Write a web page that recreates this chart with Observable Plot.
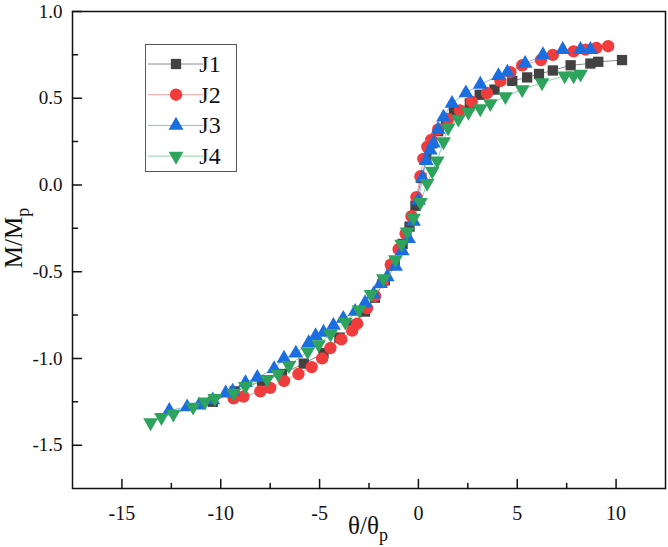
<!DOCTYPE html>
<html><head><meta charset="utf-8">
<script src="https://cdn.jsdelivr.net/npm/d3@7"></script>
<script src="https://cdn.jsdelivr.net/npm/@observablehq/plot@0.6"></script>
<style>body{margin:0;background:#fff}#chart{width:668px;height:547px}</style>
</head><body><div id="chart"></div>
<script>
const seriesNames = ["J1", "J2", "J3", "J4"];
const j1X = [-10.4,-9.3,-7.9,-6.9,-5.8,-4.8,-4.0,-3.3,-2.7,-2.2,-1.7,-1.2,-0.8,-0.45,-0.15,0.15,0.4,0.7,1.0,1.4,1.8,2.6,3.1,3.85,4.75,5.5,6.1,6.8,7.7,8.7,9.1,10.3];
const j1Y = [-1.25,-1.19,-1.13,-1.09,-1.03,-0.97,-0.88,-0.81,-0.73,-0.65,-0.55,-0.44,-0.34,-0.24,-0.12,0.04,0.15,0.24,0.31,0.37,0.42,0.47,0.52,0.55,0.60,0.62,0.64,0.66,0.69,0.70,0.71,0.72];
const j2X = [-9.35,-8.85,-8.0,-7.5,-6.8,-6.07,-5.4,-4.87,-4.45,-3.9,-3.35,-3.1,-2.6,-2.2,-1.8,-1.4,-1.0,-0.65,-0.35,-0.1,0.1,0.25,0.45,0.65,1.0,1.5,2.1,2.7,3.47,4.15,4.65,5.25,6.2,6.8,7.85,8.45,9.0,9.6];
const j2Y = [-1.23,-1.22,-1.19,-1.17,-1.13,-1.09,-1.05,-1.00,-0.94,-0.89,-0.84,-0.80,-0.71,-0.64,-0.56,-0.46,-0.37,-0.28,-0.18,-0.07,0.05,0.15,0.22,0.26,0.32,0.38,0.43,0.48,0.53,0.60,0.65,0.69,0.72,0.75,0.77,0.78,0.79,0.80];
const j3X = [-12.6,-11.7,-11.1,-10.4,-9.75,-9.4,-8.75,-8.15,-7.3,-6.8,-6.2,-5.55,-5.2,-4.8,-4.3,-3.8,-3.2,-2.7,-2.27,-1.92,-1.58,-1.16,-0.82,-0.5,-0.25,0.0,0.2,0.4,0.6,0.76,1.0,1.27,1.7,2.4,3.13,4.05,4.5,5.4,6.3,7.3,8.2,8.7];
const j3Y = [-1.30,-1.28,-1.27,-1.24,-1.20,-1.19,-1.14,-1.11,-1.06,-1.00,-0.97,-0.91,-0.87,-0.85,-0.81,-0.77,-0.73,-0.68,-0.63,-0.57,-0.53,-0.47,-0.38,-0.31,-0.21,-0.09,0.04,0.14,0.20,0.24,0.32,0.39,0.47,0.53,0.58,0.63,0.65,0.70,0.75,0.78,0.78,0.78];
const j4X = [-13.55,-13.0,-12.4,-11.4,-10.8,-10.3,-9.35,-8.75,-7.65,-7.1,-6.55,-5.6,-5.05,-4.45,-3.7,-3.0,-2.4,-1.77,-1.16,-0.85,-0.57,-0.25,0.1,0.44,0.7,0.95,1.27,1.5,2.02,2.53,3.13,3.64,4.4,5.25,6.25,7.4,7.85,8.2];
const j4Y = [-1.37,-1.34,-1.32,-1.28,-1.25,-1.23,-1.20,-1.16,-1.12,-1.09,-1.04,-0.96,-0.92,-0.86,-0.79,-0.72,-0.63,-0.54,-0.43,-0.34,-0.27,-0.19,-0.10,0.01,0.08,0.14,0.25,0.33,0.38,0.42,0.44,0.47,0.51,0.55,0.59,0.63,0.63,0.64];
const xTicks = [-15, -10, -5, 0, 5, 10];
const yTicks = [1.0, 0.5, 0.0, -0.5, -1.0, -1.5];
const xMinor = [-12.5, -7.5, -2.5, 2.5, 7.5];
const yMinor = [0.75, 0.25, -0.25, -0.75, -1.25];
const xDomain = [-17.5, 12.5];
const yDomain = [-1.75, 1.0];

const triDown = {
  draw(ctx, size) {
    const s3 = Math.sqrt(3);
    const y = -Math.sqrt(size / (s3 * 3));
    ctx.moveTo(0, -y * 2);
    ctx.lineTo(-s3 * y, y);
    ctx.lineTo(s3 * y, y);
    ctx.closePath();
  }
};
const tickShape = { draw(ctx, l) { ctx.moveTo(0, 0); ctx.lineTo(0, -l); } };

const styles = {
  J1: { fill: "#424242", line: "#8a8a8a", symbol: "square", r: 5.8 },
  J2: { fill: "#f03c3c", line: "#f3a0a0", symbol: "circle", r: 6.2 },
  J3: { fill: "#1a6ee0", line: "#8fb5ee", symbol: "triangle", r: 5.5 },
  J4: { fill: "#2ea35d", line: "#8fd3a8", symbol: triDown, r: 5.5 }
};
const xs = [j1X, j2X, j3X, j4X], ys = [j1Y, j2Y, j3Y, j4Y];
const rows = seriesNames.flatMap((s, i) => xs[i].map((x, k) => ({ series: s, x, y: ys[i][k] })));

const font = "'Liberation Serif', 'Times New Roman', serif";
const marks = [
  Plot.axisX({ ticks: xTicks, tickSize: 0, tickPadding: 17, fontSize: 20, tickFormat: d => String(d), label: null }),
  Plot.axisY({ ticks: yTicks, tickSize: 0, tickPadding: 10, fontSize: 19, tickFormat: d => d.toFixed(1), label: null }),
  Plot.vector(xTicks, { x: d => d, y: () => yDomain[0], length: 9, rotate: 0, anchor: "start", shape: tickShape, stroke: "#111", strokeWidth: 1.5 }),
  Plot.vector(xMinor, { x: d => d, y: () => yDomain[0], length: 5, rotate: 0, anchor: "start", shape: tickShape, stroke: "#111", strokeWidth: 1.5 }),
  Plot.vector(yTicks, { x: () => xDomain[0], y: d => d, length: 9, rotate: 90, anchor: "start", shape: tickShape, stroke: "#111", strokeWidth: 1.5 }),
  Plot.vector(yMinor, { x: () => xDomain[0], y: d => d, length: 5, rotate: 90, anchor: "start", shape: tickShape, stroke: "#111", strokeWidth: 1.5 })
];
for (const s of seriesNames) {
  marks.push(Plot.line(rows.filter(d => d.series === s), { x: "x", y: "y", stroke: styles[s].line, strokeWidth: 1 }));
}
for (const s of seriesNames) {
  marks.push(Plot.dot(rows.filter(d => d.series === s), { x: "x", y: "y", symbol: styles[s].symbol, fill: styles[s].fill, r: styles[s].r, stroke: "none" }));
}
marks.push(Plot.frame({ stroke: "#111", strokeWidth: 1.5 }));

const chart = Plot.plot({
  width: 668, height: 547,
  marginLeft: 72, marginRight: 3, marginTop: 11, marginBottom: 59,
  x: { domain: xDomain },
  y: { domain: yDomain },
  style: { fontFamily: font, fontSize: "20px", background: "white", color: "#111" },
  marks
});
document.getElementById("chart").appendChild(chart);

const svg = d3.select(chart);
// axis titles with subscripts
const xl = svg.append("text").attr("x", 368).attr("y", 534).attr("text-anchor", "middle")
  .attr("font-family", font).attr("font-size", 25).attr("fill", "#111");
xl.append("tspan").text("θ/θ");
xl.append("tspan").attr("dy", 7).attr("font-size", 18).text("p");
const yl = svg.append("text").attr("transform", "translate(22,238) rotate(-90)").attr("text-anchor", "middle")
  .attr("font-family", font).attr("font-size", 25).attr("fill", "#111");
yl.append("tspan").text("M/M");
yl.append("tspan").attr("dy", 7).attr("font-size", 18).text("p");

// legend
const lg = svg.append("g");
lg.append("rect").attr("x", 145.5).attr("y", 44.5).attr("width", 91).attr("height", 127)
  .attr("fill", "white").attr("stroke", "#555").attr("stroke-width", 1);
seriesNames.forEach((s, i) => {
  const cy = 64 + i * 30.7;
  const st = styles[s];
  lg.append("line").attr("x1", 148).attr("x2", 203).attr("y1", cy).attr("y2", cy)
    .attr("stroke", st.line).attr("stroke-width", 1);
  const type = typeof st.symbol === "string" ? { square: d3.symbolSquare, circle: d3.symbolCircle, triangle: d3.symbolTriangle }[st.symbol] : st.symbol;
  lg.append("path").attr("transform", `translate(176,${cy})`)
    .attr("d", d3.symbol(type, st.r * st.r * Math.PI)()).attr("fill", st.fill);
  lg.append("text").attr("x", 210).attr("y", cy + 8).attr("font-family", font).attr("font-size", 24)
    .attr("fill", "#111").text(s);
});
</script></body></html>
